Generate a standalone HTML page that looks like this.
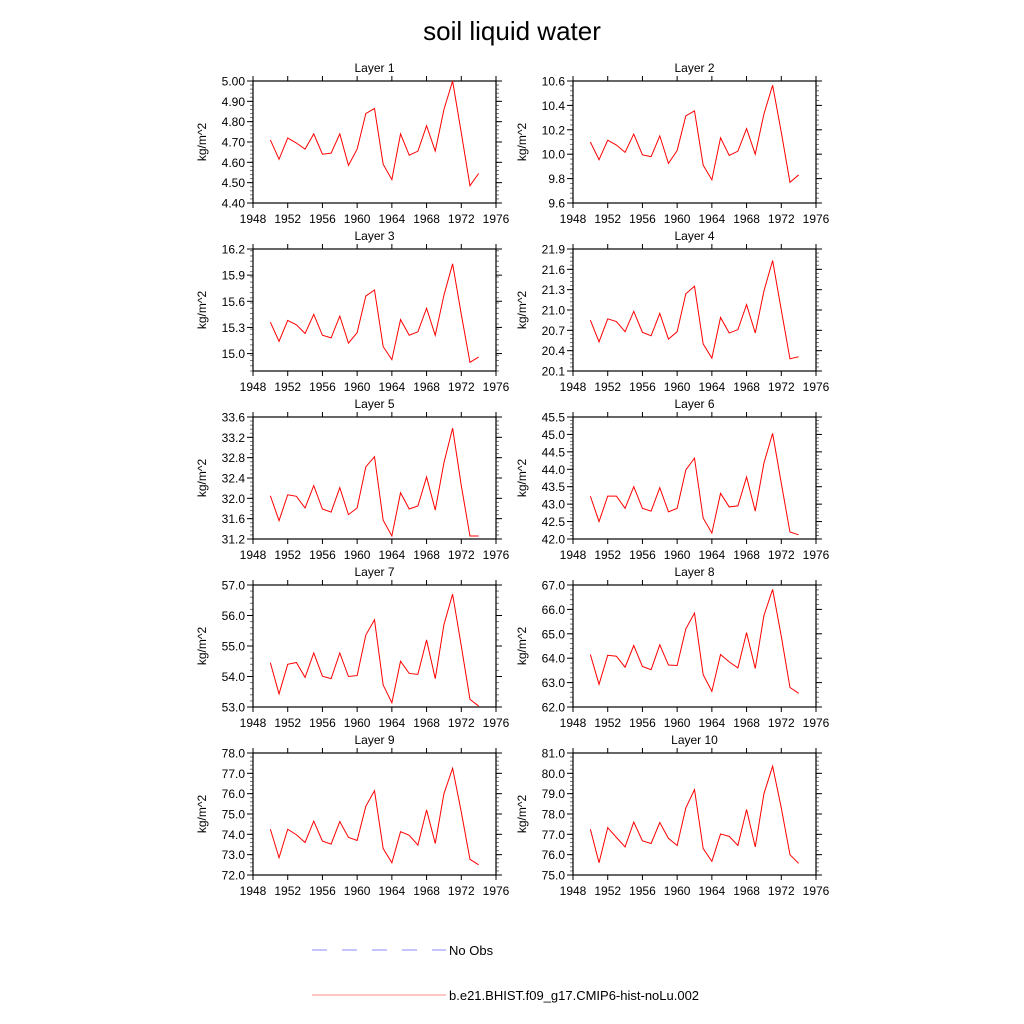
<!DOCTYPE html>
<html><head><meta charset="utf-8"><style>
body{margin:0;background:#fff;}
svg{display:block;font-family:"Liberation Sans",sans-serif;}
</style></head><body>
<svg id="chart" width="1024" height="1024" viewBox="0 0 1024 1024" xmlns="http://www.w3.org/2000/svg">
<rect width="1024" height="1024" fill="#fff"/>
<text x="512" y="40" font-size="26" text-anchor="middle">soil liquid water</text>
<g>
<line x1="312" y1="950" x2="446" y2="950" stroke="#8888ff" stroke-width="1" stroke-dasharray="15,15"/>
<text x="449" y="955" font-size="13">No Obs</text>
<line x1="312" y1="995" x2="446" y2="995" stroke="#ff8888" stroke-width="1"/>
<text x="449" y="1000" font-size="13">b.e21.BHIST.f09_g17.CMIP6-hist-noLu.002</text>
</g>
<g id="panels"></g>
</svg>
<script>
const years = [1950,1951,1952,1953,1954,1955,1956,1957,1958,1959,1960,1961,1962,1963,1964,1965,1966,1967,1968,1969,1970,1971,1972,1973,1974];
const xTicks = [1948,1952,1956,1960,1964,1968,1972,1976];
const layer1 = [4.71,4.615,4.72,4.695,4.665,4.74,4.64,4.645,4.74,4.585,4.665,4.84,4.865,4.59,4.515,4.74,4.635,4.655,4.78,4.655,4.86,5.0,4.745,4.485,4.545];
const layer2 = [10.1,9.955,10.115,10.075,10.015,10.165,9.995,9.98,10.15,9.925,10.03,10.315,10.355,9.91,9.79,10.135,9.99,10.025,10.21,10.0,10.33,10.565,10.18,9.77,9.83];
const layer3 = [15.36,15.14,15.38,15.33,15.23,15.45,15.21,15.18,15.43,15.12,15.24,15.66,15.73,15.08,14.93,15.39,15.21,15.25,15.52,15.21,15.67,16.03,15.45,14.9,14.96];
const layer4 = [20.85,20.53,20.87,20.83,20.68,20.98,20.67,20.62,20.95,20.57,20.68,21.24,21.35,20.5,20.29,20.89,20.66,20.71,21.08,20.66,21.28,21.73,21.0,20.28,20.31];
const layer5 = [32.05,31.56,32.07,32.04,31.81,32.25,31.79,31.73,32.21,31.68,31.81,32.62,32.82,31.57,31.26,32.11,31.79,31.85,32.42,31.77,32.7,33.38,32.25,31.26,31.26];
const layer6 = [43.23,42.5,43.23,43.23,42.88,43.5,42.88,42.8,43.47,42.78,42.88,43.98,44.32,42.6,42.17,43.31,42.92,42.95,43.78,42.8,44.18,45.03,43.6,42.2,42.12];
const layer7 = [54.45,53.43,54.4,54.46,53.97,54.77,54.01,53.93,54.77,54.0,54.03,55.36,55.86,53.72,53.14,54.5,54.1,54.07,55.2,53.93,55.7,56.7,55.0,53.25,53.03];
const layer8 = [64.15,62.93,64.12,64.08,63.63,64.52,63.66,63.53,64.55,63.72,63.7,65.2,65.85,63.33,62.64,64.15,63.85,63.6,65.05,63.58,65.75,66.82,64.9,62.8,62.56];
const layer9 = [74.25,72.85,74.25,73.98,73.6,74.65,73.67,73.52,74.63,73.85,73.7,75.38,76.15,73.3,72.6,74.13,73.95,73.47,75.2,73.55,76.0,77.25,75.1,72.77,72.5];
const layer10 = [77.25,75.6,77.33,76.85,76.38,77.6,76.68,76.55,77.58,76.8,76.45,78.3,79.2,76.3,75.67,77.02,76.9,76.45,78.22,76.38,79.0,80.35,78.3,76.0,75.57];
const yTicks1 = ["4.40","4.50","4.60","4.70","4.80","4.90","5.00"];
const yTicks2 = ["9.6","9.8","10.0","10.2","10.4","10.6"];
const yTicks3 = ["15.0","15.3","15.6","15.9","16.2"];
const yTicks4 = ["20.1","20.4","20.7","21.0","21.3","21.6","21.9"];
const yTicks5 = ["31.2","31.6","32.0","32.4","32.8","33.2","33.6"];
const yTicks6 = ["42.0","42.5","43.0","43.5","44.0","44.5","45.0","45.5"];
const yTicks7 = ["53.0","54.0","55.0","56.0","57.0"];
const yTicks8 = ["62.0","63.0","64.0","65.0","66.0","67.0"];
const yTicks9 = ["72.0","73.0","74.0","75.0","76.0","77.0","78.0"];
const yTicks10 = ["75.0","76.0","77.0","78.0","79.0","80.0","81.0"];
const yMin = [4.4,9.6,14.8,20.1,31.2,42.0,53.0,62.0,72.0,75.0];
const yMax = [5.0,10.6,16.2,21.9,33.6,45.5,57.0,67.0,78.0,81.0];
const series = [layer1,layer2,layer3,layer4,layer5,layer6,layer7,layer8,layer9,layer10];
const ticks = [yTicks1,yTicks2,yTicks3,yTicks4,yTicks5,yTicks6,yTicks7,yTicks8,yTicks9,yTicks10];

const NS="http://www.w3.org/2000/svg";
const root=document.getElementById('panels');
function mk(tag,attrs,parent){const e=document.createElementNS(NS,tag);for(const k in attrs)e.setAttribute(k,attrs[k]);parent.appendChild(e);return e;}
const W=243,H=122;
for(let i=0;i<10;i++){
  const col=i%2,row=Math.floor(i/2);
  const L=col?573:253, T=81+row*168;
  const g=mk('g',{},root);
  
  
  const xs=v=>L+(v-1948)/28*W;
  const ys=v=>T+H-(v-yMin[i])/(yMax[i]-yMin[i])*H;
  const t=mk('text',{x:L+W/2,y:T-9,'font-size':12,'text-anchor':'middle'},g);
  
  
  t.textContent='Layer '+(i+1);
  const yt=mk('text',{transform:`translate(${L-47},${T+H/2}) rotate(-90)`,'font-size':12,'text-anchor':'middle'},g);
  
  
  yt.textContent='kg/m^2';
  // x ticks
  xTicks.forEach(yr=>{
    const x=xs(yr);
    mk('line',{x1:x,y1:T+H,x2:x,y2:T+H+5,stroke:'#000'},g);
    mk('line',{x1:x,y1:T,x2:x,y2:T-5,stroke:'#000'},g);
    const lb=mk('text',{x:x,y:T+H+20,'font-size':12,'text-anchor':'middle'},g);
    
    
    lb.textContent=yr;
  });
  // y ticks
  const tk=ticks[i];
  const step=parseFloat(tk[1])-parseFloat(tk[0]);
  const minor=step/5;
  for(let v=yMin[i];v<=yMax[i]+1e-9;v+=minor){
    const y=ys(v);
    mk('line',{x1:L-3,y1:y,x2:L,y2:y,stroke:'#777'},g);
    mk('line',{x1:L+W,y1:y,x2:L+W+3,y2:y,stroke:'#777'},g);
  }
  tk.forEach(s=>{
    const v=parseFloat(s),y=ys(v);
    mk('line',{x1:L-6,y1:y,x2:L,y2:y,stroke:'#000'},g);
    mk('line',{x1:L+W,y1:y,x2:L+W+6,y2:y,stroke:'#000'},g);
    const lb=mk('text',{x:L-8,y:y+4.5,'font-size':12,'text-anchor':'end'},g);
    
    
    lb.textContent=s;
  });
  const fr=mk('rect',{x:L,y:T,width:W,height:H,fill:'none',stroke:'#000','stroke-width':1.2},g);
  
  
  const pts=series[i].map((v,k)=>xs(years[k]).toFixed(2)+','+ys(v).toFixed(2)).join(' ');
  const pl=mk('polyline',{points:pts,fill:'none',stroke:'#ff0000','stroke-width':1},g);
  
  
}
</script>
</body></html>
